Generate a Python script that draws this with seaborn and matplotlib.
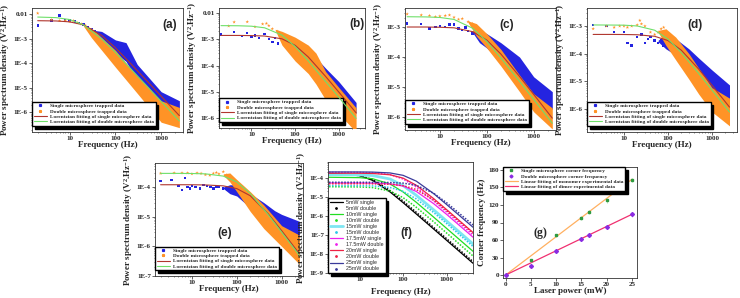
import numpy as np
import pandas as pd
import matplotlib
matplotlib.use("Agg")
import matplotlib.pyplot as plt
import seaborn as sns
from matplotlib.lines import Line2D
from matplotlib.ticker import FixedLocator, FuncFormatter, LogLocator, NullFormatter

sns.set_style("ticks")
plt.rcParams["font.family"] = ["Liberation Serif", "DejaVu Serif"]
plt.rcParams["font.weight"] = "bold"
plt.rcParams["axes.labelweight"] = "bold"
plt.rcParams["mathtext.fontset"] = "custom"
plt.rcParams["mathtext.rm"] = "Liberation Serif:bold"
plt.rcParams["mathtext.it"] = "Liberation Serif:bold"
plt.rcParams["mathtext.bf"] = "Liberation Serif:bold"

# ---------------- data: PSD panels (a)-(e) ----------------
fit_freq = [2, 5, 10, 20, 50, 100, 200, 500, 1000, 2500]

# (a)
a_fit_single = [5.47e-3, 5.34e-3, 4.9e-3, 3.7e-3, 1.37e-3, 4.3e-4, 1.13e-4, 1.85e-5, 4.6e-6, 7.4e-7]
a_fit_double = [7.7e-3, 7.3e-3, 6.1e-3, 3.7e-3, 1.0e-3, 2.8e-4, 7.0e-5, 1.13e-5, 2.8e-6, 4.5e-7]
a_single_f = [2, 4, 6, 8, 10, 13, 16, 20, 25, 30, 35, 40, 50]
a_single_p = [3.5e-3, 5.5e-3, 9e-3, 6e-3, 5.5e-3, 5e-3, 4.5e-3, 3.8e-3, 3e-3, 2.5e-3, 2e-3, 1.6e-3, 1.3e-3]
a_single_band_f = [35, 50, 100, 170, 300, 1000, 2500]
a_single_hi = [2.2e-3, 2e-3, 9e-4, 7e-4, 9e-5, 7e-6, 3e-6]
a_single_lo = [1.9e-3, 7e-4, 2.6e-4, 1.2e-4, 2e-5, 1.6e-6, 7.5e-7]
a_double_f = [2, 4, 6, 8, 10, 12, 15, 18, 22, 25]
a_double_p = [1.1e-2, 6e-3, 5.5e-3, 5.5e-3, 5e-3, 5.5e-3, 4.5e-3, 4e-3, 3.5e-3, 2.5e-3]
a_double_band_f = [20, 30, 100, 300, 1000, 2500]
a_double_hi = [3.5e-3, 2.7e-3, 3.4e-4, 3e-5, 3e-6, 1.6e-6]
a_double_lo = [3.3e-3, 1.1e-3, 7e-5, 6e-6, 4e-7, 2.4e-7]

# (b)
b_fit_single = [1.4e-3, 1.4e-3, 1.38e-3, 1.33e-3, 1.04e-3, 5.9e-4, 2.14e-4, 3.9e-5, 1.0e-5, 1.62e-6]
b_fit_double = [3.3e-3, 3.26e-3, 3.14e-3, 2.73e-3, 1.44e-3, 5.3e-4, 1.52e-4, 2.5e-5, 6.4e-6, 1.0e-6]
b_single_f = [2, 4, 6, 8, 10, 12, 15, 20, 25, 30, 35, 40, 50, 60, 70]
b_single_p = [1.5e-3, 1.9e-3, 1.3e-3, 1.7e-3, 1.2e-3, 1.4e-3, 1.1e-3, 1.6e-3, 1.0e-3, 8e-4, 1.1e-3, 7e-4, 9e-4, 6e-4, 5.5e-4]
b_single_band_f = [55, 80, 150, 300, 500, 1000, 2500]
b_single_hi = [8e-4, 1.1e-3, 5e-4, 2e-4, 8e-5, 2.5e-5, 4e-6]
b_single_lo = [7e-4, 4e-4, 2e-4, 6e-5, 2.5e-5, 7e-6, 1.5e-6]
b_double_f = [3, 4, 8, 12, 18, 22, 25, 30, 40]
b_double_p = [3.2e-3, 4.5e-3, 4.6e-3, 3e-3, 3.8e-3, 4e-3, 3.3e-3, 2.5e-3, 2e-3]
b_double_band_f = [35, 50, 100, 200, 300, 500, 1000, 2500]
b_double_hi = [2.4e-3, 2e-3, 1.2e-3, 6e-4, 3e-4, 6e-5, 1.5e-5, 2.5e-6]
b_double_lo = [2.2e-3, 6e-4, 1.5e-4, 5e-5, 2e-5, 5e-6, 1.5e-6, 3e-7]

# (c)
c_fit_single = [1e-3, 1e-3, 9.8e-4, 9.4e-4, 7.0e-4, 3.66e-4, 1.26e-4, 2.26e-5, 5.7e-6, 9.2e-7]
c_fit_double = [2.2e-3, 2.17e-3, 2.08e-3, 1.79e-3, 9.1e-4, 3.3e-4, 9.3e-5, 1.54e-5, 3.9e-6, 6.2e-7]
c_single_f = [2, 4, 6, 8, 10, 13, 16, 20, 25, 30, 35, 40, 50, 60]
c_single_p = [1.3e-3, 1.25e-3, 9e-4, 1e-3, 1.1e-3, 1e-3, 1.2e-3, 1.2e-3, 9e-4, 8e-4, 9.5e-4, 7.5e-4, 6e-4, 7e-4]
c_single_band_f = [50, 70, 100, 200, 500, 1000, 2500]
c_single_hi = [7.5e-4, 8e-4, 6e-4, 3e-4, 1e-4, 2.2e-5, 7e-6]
c_single_lo = [6.5e-4, 3e-4, 2e-4, 7e-5, 1.4e-5, 3.7e-6, 1.8e-6]
c_double_f = [2, 4, 6, 8, 10, 13, 16, 20, 25, 30, 40, 50]
c_double_p = [2.7e-3, 2.5e-3, 2.4e-3, 2.2e-3, 2.3e-3, 2.4e-3, 2.5e-3, 2.1e-3, 1.8e-3, 1.9e-3, 1.5e-3, 1.3e-3]
c_double_band_f = [40, 60, 100, 200, 500, 1000, 2500]
c_double_hi = [1.6e-3, 1.3e-3, 6e-4, 1.8e-4, 2.5e-5, 6e-6, 2e-6]
c_double_lo = [1.4e-3, 5e-4, 2e-4, 5e-5, 7e-6, 1.5e-6, 4e-7]

# (d)
d_fit_single = [5e-4, 5e-4, 4.97e-4, 4.87e-4, 4.28e-4, 3.0e-4, 1.36e-4, 2.8e-5, 7.3e-6, 1.19e-6]
d_fit_double = [1.1e-3, 1.09e-3, 1.08e-3, 1.01e-3, 7.1e-4, 3.4e-4, 1.11e-4, 1.94e-5, 4.9e-6, 7.9e-7]
d_single_f = [2, 4, 6, 10, 12, 15, 20, 25, 30, 35, 40, 50, 60, 70, 80]
d_single_p = [1.1e-3, 1e-3, 6e-4, 6e-4, 2.5e-4, 2e-4, 4e-4, 5e-4, 2.5e-4, 3.5e-4, 4e-4, 3e-4, 2.5e-4, 3e-4, 2e-4]
d_single_band_f = [60, 90, 150, 300, 500, 1000, 2500]
d_single_hi = [3.1e-4, 5e-4, 3.5e-4, 1.5e-4, 7e-5, 2.6e-5, 7.5e-6]
d_single_lo = [2.7e-4, 1.5e-4, 9e-5, 3.3e-5, 1.5e-5, 5e-6, 2e-6]
d_double_f = [2, 4, 6, 8, 10, 12, 15, 20, 23, 25, 30, 40, 50, 60, 70, 80]
d_double_p = [8e-4, 1e-3, 9e-4, 1e-3, 1e-3, 9e-4, 1e-3, 1.1e-3, 1.6e-3, 1.2e-3, 1e-3, 6e-4, 5e-4, 6e-4, 8e-4, 9e-4]
d_double_band_f = [60, 90, 150, 300, 500, 1000, 2500]
d_double_hi = [7e-4, 8e-4, 4e-4, 1e-4, 3e-5, 6e-6, 2.5e-6]
d_double_lo = [6e-4, 2e-4, 6e-5, 1.2e-5, 3.5e-6, 8e-7, 2.5e-7]

# (e)
e_fit_single = [1.2e-4, 1.2e-4, 1.2e-4, 1.18e-4, 1.1e-4, 8.9e-5, 5.1e-5, 1.26e-5, 3.4e-6, 5.6e-7]
e_fit_double = [2.9e-4, 2.9e-4, 2.87e-4, 2.8e-4, 2.35e-4, 1.49e-4, 6.1e-5, 1.18e-5, 3.0e-6, 4.9e-7]
e_single_f = [2, 3.5, 5, 6, 7, 8, 9, 10, 12, 15, 18, 22, 26, 30, 35, 40, 50, 60]
e_single_p = [1.6e-4, 1.7e-4, 1.1e-4, 8e-5, 2e-4, 1e-4, 9e-5, 1.1e-4, 1e-4, 9e-5, 1.2e-4, 1.1e-4, 1e-4, 9e-5, 1e-4, 1e-4, 9e-5, 8e-5]
e_single_band_f = [50, 70, 100, 200, 400, 700, 1000, 2500]
e_single_hi = [1e-4, 1.2e-4, 1.2e-4, 6e-5, 3e-5, 1.6e-5, 1.2e-5, 7e-6]
e_single_lo = [9e-5, 6e-5, 5e-5, 2e-5, 6e-6, 3.5e-6, 2.5e-6, 1e-6]
e_double_f = [2, 4, 6, 8, 10, 13, 16, 20, 25, 30, 35, 40, 50, 60]
e_double_p = [2.9e-4, 3e-4, 3e-4, 3e-4, 2.8e-4, 3e-4, 2.9e-4, 2.6e-4, 2.5e-4, 2.9e-4, 3.1e-4, 2.8e-4, 3.3e-4, 2.6e-4]
e_double_band_f = [50, 70, 100, 200, 400, 1000, 2500]
e_double_hi = [2.8e-4, 3e-4, 1.8e-4, 7e-5, 2.5e-5, 5e-6, 2.4e-6]
e_double_lo = [2.5e-4, 1.5e-4, 7e-5, 1.5e-5, 4e-6, 1e-6, 2.5e-7]

# ---------------- data: panel (f) ----------------
f_freq = [2, 10, 20, 50, 100, 200, 500, 1000, 4000]
f_labels = ["5mW", "10mW", "15mW", "17.5mW", "20mW", "25mW"]
f_single = [
    [1.78e-4, 1.34e-4, 7.55e-5, 1.87e-5, 5.06e-6, 1.29e-6, 2.08e-7, 5.2e-8, 3.25e-9],
    [1.1e-4, 1.05e-4, 9.2e-5, 4.9e-5, 1.85e-5, 5.3e-6, 8.8e-7, 2.2e-7, 1.39e-8],
    [1.5e-4, 1.46e-4, 1.35e-4, 8.9e-5, 4.0e-5, 1.24e-5, 2.13e-6, 5.4e-7, 3.4e-8],
    [5.5e-5, 5.5e-5, 5.4e-5, 4.95e-5, 3.8e-5, 1.98e-5, 4.5e-6, 1.21e-6, 7.7e-8],
    [1.8e-4, 1.79e-4, 1.74e-4, 1.49e-4, 9.9e-5, 4.2e-5, 8.3e-6, 2.15e-6, 1.36e-7],
    [2.1e-4, 2.09e-4, 2.06e-4, 1.86e-4, 1.39e-4, 6.9e-5, 1.53e-5, 4.0e-6, 2.57e-7],
]
f_double = [
    [1.73e-4, 1.37e-4, 8.3e-5, 2.2e-5, 6.1e-6, 1.57e-6, 2.5e-7, 6.3e-8, 3.95e-9],
    [3.5e-5, 3.4e-5, 3.15e-5, 2.07e-5, 9.3e-6, 2.9e-6, 5.0e-7, 1.26e-7, 7.9e-9],
    [4e-5, 3.96e-5, 3.85e-5, 3.2e-5, 2.0e-5, 8e-6, 1.54e-6, 4.0e-7, 2.5e-8],
    [2e-4, 1.98e-4, 1.9e-4, 1.53e-4, 8.9e-5, 3.4e-5, 6.3e-6, 1.6e-6, 1.0e-7],
    [5e-5, 5e-5, 4.95e-5, 4.7e-5, 4.0e-5, 2.5e-5, 6.9e-6, 1.92e-6, 1.25e-7],
    [6e-5, 6e-5, 5.97e-5, 5.8e-5, 5.4e-5, 4.15e-5, 1.59e-5, 4.96e-6, 3.4e-7],
]

# ---------------- data: panel (g) ----------------
g_power = [0, 5, 10, 15, 16.5, 20, 25]
g_single = [0, 25, 68, 98, 108, 128, 163]
g_double = [0, 16, 41, 61, 69, 83, 104]
g_single_err = [1, 3, 3, 3, 3, 4, 4]
g_double_err = [1, 2, 2, 2, 2, 3, 4]
g_fit_power = [0, 25]
g_fit_single = [0, 164]
g_fit_double = [0, 104]

BLUE = "#2424e0"
ORANGE = "#ff9326"
BROWN = "#b0362e"
GREEN = "#6fe06a"
W, H = 740, 298

fig = plt.figure(figsize=(W / 100, H / 100), dpi=100)


def add_ax(l, t, r, b):
    return fig.add_axes([l / W, 1 - b / H, (r - l) / W, (b - t) / H])


def style_ax(ax):
    for s in ax.spines.values():
        s.set_linewidth(0.6)
        s.set_color("#333333")
    ax.tick_params(which="major", direction="out", length=2, width=0.5, pad=1, labelsize=5)
    ax.tick_params(which="minor", direction="out", length=1, width=0.4)


def dec_fmt(v, pos):
    if abs(v - 0.01) < 1e-9:
        return "0.01"
    return "1E%d" % int(round(np.log10(v)))


def log_axes(ax, xlim, ylim, yticks):
    ax.set_xscale("log")
    ax.set_yscale("log")
    ax.set_xlim(*xlim)
    ax.set_ylim(*ylim)
    ax.xaxis.set_major_locator(FixedLocator([10, 100, 1000]))
    ax.xaxis.set_major_formatter(FuncFormatter(lambda v, p: "%d" % v))
    ax.xaxis.set_minor_locator(LogLocator(subs=np.arange(2, 10)))
    ax.xaxis.set_minor_formatter(NullFormatter())
    ax.yaxis.set_major_locator(FixedLocator(yticks))
    ax.yaxis.set_major_formatter(FuncFormatter(dec_fmt))
    ax.yaxis.set_minor_locator(LogLocator(subs=np.arange(2, 10)))
    ax.yaxis.set_minor_formatter(NullFormatter())
    style_ax(ax)


YLAB = r"Power spectrum density (V$^{2}$.Hz$^{-1}$)"
LEG_LABELS = ["Single microsphere trapped data", "Double microsphere trapped data",
              "Lorentzian fitting of single microsphere data",
              "Lorentzian fitting of double microsphere data"]


def psd_panel(box, xlim, ylim, yticks, letter, lpos, d):
    ax = add_ax(*box)
    log_axes(ax, xlim, ylim, yticks)
    (sf, sp, sbf, slo, shi, df, dp, dbf, dlo, dhi, fs, fd) = d
    ax.fill_between(sbf, slo, shi, color=BLUE, lw=0, zorder=1)
    sns.scatterplot(x=sf, y=sp, ax=ax, color=BLUE, marker="s", s=3, edgecolor="none", zorder=2)
    ax.fill_between(dbf, dlo, dhi, color=ORANGE, lw=0, zorder=3)
    sns.scatterplot(x=df, y=dp, ax=ax, color=ORANGE, marker="*", s=7, edgecolor="none", zorder=4)
    sns.lineplot(x=fit_freq, y=fs, ax=ax, color=BROWN, lw=0.8, sort=False, estimator=None, zorder=5)
    sns.lineplot(x=fit_freq, y=fd, ax=ax, color=GREEN, lw=0.8, sort=False, estimator=None, zorder=6)
    ax.set_xlabel("Frequency (Hz)", fontsize=6.5, labelpad=0)
    ax.set_ylabel(YLAB, fontsize=6.5, labelpad=1)
    handles = [Line2D([], [], ls="none", marker="s", ms=1.3, color=BLUE),
               Line2D([], [], ls="none", marker="*", ms=2, color=ORANGE),
               Line2D([], [], color=BROWN, lw=0.8),
               Line2D([], [], color=GREEN, lw=0.8)]
    ax.legend(handles, LEG_LABELS, loc="lower left", bbox_to_anchor=(0.0, 0.05),
              prop=dict(family="Liberation Serif", weight="bold", size=3.8),
              frameon=True, fancybox=False, edgecolor="k", framealpha=1,
              shadow={"color": "k", "alpha": 1}, borderpad=0.3, labelspacing=0.12,
              handlelength=2.6, handletextpad=0.5, borderaxespad=0)
    ax.text(lpos[0], lpos[1], letter, transform=ax.transAxes, fontsize=8.5,
            family="Liberation Sans", weight="bold", ha="center", va="center")
    return ax


psd_panel((32, 8, 183, 132), (1.5, 3000), (1.6e-7, 1.8e-2), [1e-6, 1e-5, 1e-4, 1e-3, 1e-2], "(a)", (0.914, 0.863),
          (a_single_f, a_single_p, a_single_band_f, a_single_lo, a_single_hi,
           a_double_f, a_double_p, a_double_band_f, a_double_lo, a_double_hi, a_fit_single, a_fit_double))
psd_panel((219, 8, 365, 128), (1.8, 4000), (4.3e-7, 1.54e-2), [1e-6, 1e-5, 1e-4, 1e-3, 1e-2], "(b)", (0.945, 0.867),
          (b_single_f, b_single_p, b_single_band_f, b_single_lo, b_single_hi,
           b_double_f, b_double_p, b_double_band_f, b_double_lo, b_double_hi, b_fit_single, b_fit_double))
psd_panel((405, 8, 556, 130), (1.8, 3000), (3.7e-7, 4.3e-3), [1e-6, 1e-5, 1e-4, 1e-3], "(c)", (0.675, 0.86),
          (c_single_f, c_single_p, c_single_band_f, c_single_lo, c_single_hi,
           c_double_f, c_double_p, c_double_band_f, c_double_lo, c_double_hi, c_fit_single, c_fit_double))
psd_panel((587, 8, 737, 132), (1.45, 3700), (1.5e-7, 4.5e-3), [1e-6, 1e-5, 1e-4, 1e-3], "(d)", (0.72, 0.863),
          (d_single_f, d_single_p, d_single_band_f, d_single_lo, d_single_hi,
           d_double_f, d_double_p, d_double_band_f, d_double_lo, d_double_hi, d_fit_single, d_fit_double))
psd_panel((155, 163, 303, 276), (1.5, 3000), (1e-7, 6.5e-4), [1e-7, 1e-6, 1e-5, 1e-4], "(e)", (0.473, 0.38),
          (e_single_f, e_single_p, e_single_band_f, e_single_lo, e_single_hi,
           e_double_f, e_double_p, e_double_band_f, e_double_lo, e_double_hi, e_fit_single, e_fit_double))

# ---------------- panel (f) ----------------
axf = add_ax(328, 162, 473, 273)
log_axes(axf, (1.9, 4000), (1e-9, 7e-4), [1e-9, 1e-8, 1e-7, 1e-6, 1e-5, 1e-4])
f_colors = ["#000000", "#22dd22", "#7fe6f2", "#ee22ee", "#ee2244", "#3a3a9a"]
f_double_colors = ["#000000", "#22dd22", "#2ec8e8", "#ee22ee", "#ee2244", "#3a3a9a"]
f_handles, f_names = [], []
for i, lab in enumerate(f_labels):
    lw = 2.0 if i == 2 else 0.9
    sns.lineplot(x=f_freq, y=f_single[i], ax=axf, color=f_colors[i], lw=lw, sort=False, estimator=None)
    sns.lineplot(x=f_freq, y=f_double[i], ax=axf, color=f_double_colors[i], lw=1.1,
                 ls=(0, (1, 1)), sort=False, estimator=None)
    f_handles += [Line2D([], [], color=f_colors[i], lw=lw),
                  Line2D([], [], ls="none", marker=".", ms=2, color=f_double_colors[i])]
    f_names += [lab + " single", lab + " double"]
axf.legend(f_handles, f_names, loc="lower left", bbox_to_anchor=(0.0, 0.0),
           prop=dict(family="Liberation Sans", weight="normal", size=3.8),
           frameon=True, fancybox=False, edgecolor="k", framealpha=1,
           shadow={"color": "k", "alpha": 1}, borderpad=0.3, labelspacing=0.2,
           handlelength=2.6, handletextpad=0.6, borderaxespad=0)
axf.set_xlabel("Frequency (Hz)", fontsize=6.5, labelpad=4)
axf.set_ylabel(YLAB, fontsize=6.5, labelpad=1)
axf.text(0.538, 0.36, "(f)", transform=axf.transAxes, fontsize=8.5,
         family="Liberation Sans", weight="bold", ha="center", va="center")

# ---------------- panel (g) ----------------
axg = add_ax(503, 167, 637, 278)
sns.lineplot(x=g_fit_power, y=g_fit_single, ax=axg, color="#ffb060", lw=0.9, estimator=None)
sns.lineplot(x=g_fit_power, y=g_fit_double, ax=axg, color="#f03070", lw=0.9, estimator=None)
axg.errorbar(g_power, g_single, yerr=g_single_err, fmt="s", ms=2, color="#2e9a40",
             ecolor="#9adf9a", elinewidth=0.5, capsize=0, zorder=5)
axg.errorbar(g_power, g_double, yerr=g_double_err, fmt="D", ms=2, color="#8a2be2",
             ecolor="#d090f0", elinewidth=0.5, capsize=0, zorder=5)
axg.set_xlim(-0.5, 26)
axg.set_ylim(-5, 185)
axg.set_xticks([0, 5, 10, 15, 20, 25])
axg.set_yticks([0, 30, 60, 90, 120, 150, 180])
style_ax(axg)
axg.set_xlabel("Laser power (mW)", fontsize=6.5, labelpad=0)
axg.set_ylabel("Corner frequency (Hz)", fontsize=6.5, labelpad=2)
g_handles = [Line2D([], [], ls="none", marker="s", ms=1.5, color="#2e9a40"),
             Line2D([], [], ls="none", marker="D", ms=1.5, color="#8a2be2"),
             Line2D([], [], color="#ffb060", lw=0.9),
             Line2D([], [], color="#f03070", lw=0.9)]
g_names = ["Single microsphere corner frequency", "Double microsphere corner frequency",
           "Linear fitting of monomer experimental data", "Linear fitting of dimer experimental data"]
axg.legend(g_handles, g_names, loc="upper left", bbox_to_anchor=(0.0, 1.0),
           prop=dict(family="Liberation Serif", weight="bold", size=3.8),
           frameon=True, fancybox=False, edgecolor="k", framealpha=1,
           shadow={"color": "k", "alpha": 1}, borderpad=0.3, labelspacing=0.12,
           handlelength=2.6, handletextpad=0.5, borderaxespad=0)
axg.text(0.276, 0.405, "(g)", transform=axg.transAxes, fontsize=8.5,
         family="Liberation Serif", weight="bold", ha="center", va="center")

fig.savefig("out.png", dpi=100)
